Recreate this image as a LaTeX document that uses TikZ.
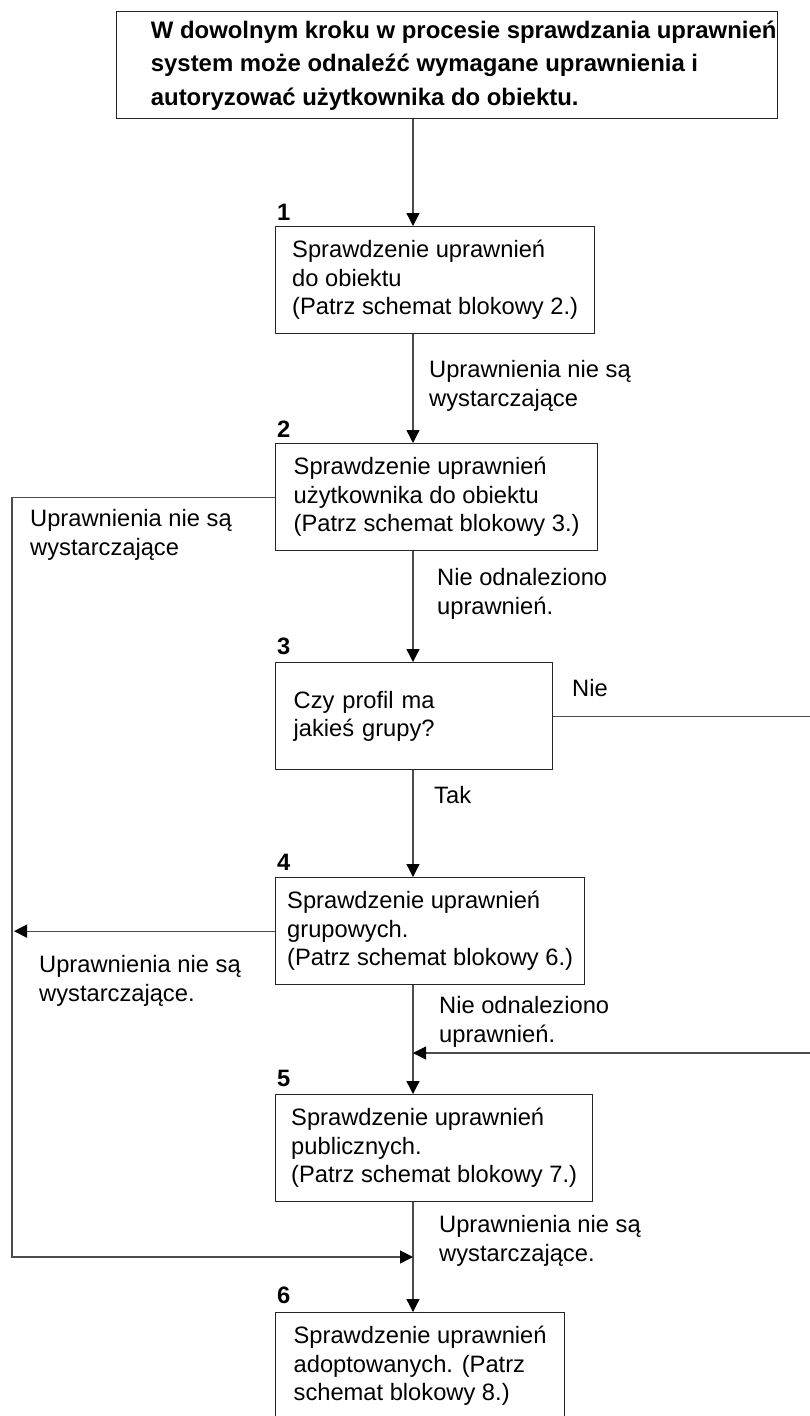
\documentclass[tikz,border=0pt]{standalone}
\usepackage{fontspec}
\setmainfont{Liberation Sans}
\usepackage{tikz}
\usetikzlibrary{arrows.meta,calc}
\tikzset{
  headbox/.style ={draw=black!85,line width=1.3pt,anchor=north west,
                   minimum width=661pt,minimum height=105pt,inner xsep=0pt,
                   font=\fontsize{23.9}{33.5}\selectfont\bfseries},
  stepbox/.style ={draw=black!85,line width=1.3pt,anchor=north west,align=left,
                   minimum height=107pt,inner xsep=8pt,inner ysep=4pt,
                   font=\fontsize{23.7}{28.5}\selectfont},
  numlab/.style  ={anchor=west,inner sep=0pt,font=\fontsize{23.7}{28.5}\selectfont\bfseries},
  edgelab/.style ={anchor=west,align=left,inner sep=0pt,
                   font=\fontsize{23.7}{28.5}\selectfont},
  conn/.style    ={draw=black!70,line width=1.3pt},
  arr/.style     ={conn,-{Triangle[length=13pt,width=13pt,color=black]}},
}

\begin{document}
\begin{tikzpicture}[x=1pt,y=-1pt]
\useasboundingbox (0,0) rectangle (810,1416);

% --- rails -----------------------------------------------------------------
\coordinate (axis)  at (413,0);
\coordinate (lrail) at (12,0);
\coordinate (rrail) at (812,0);
\coordinate (join5) at (413,1053);
\coordinate (join6) at (413,1257);

% --- heading ---------------------------------------------------------------
\node[headbox] (head) at (116,11)
  {\hspace*{33pt}\begin{tabular}{@{}l@{}}
   W dowolnym kroku w procesie sprawdzania uprawnień\\
   system może odnaleźć wymagane uprawnienia i\\
   autoryzować użytkownika do obiektu.
   \end{tabular}};

% --- steps -----------------------------------------------------------------
\node[numlab] (n1) at (277,212) {1};
\node[stepbox,minimum width=319pt] (s1) at (275,226)
  {Sprawdzenie uprawnień\\ do obiektu\\ (Patrz schemat blokowy 2.)};
\node[numlab] (n2) at (277,429) {2};
\node[stepbox,minimum width=322pt] (s2) at (275,443)
  {Sprawdzenie uprawnień\\ użytkownika do obiektu\\ (Patrz schemat blokowy 3.)};
\node[numlab] (n3) at (277,646) {3};
\node[stepbox,minimum width=277pt,text width=241pt] (s3) at (275,662)
  {Czy profil ma\\ jakieś grupy?};
\node[numlab] (n4) at (277,862) {4};
\node[stepbox,minimum width=309pt] (s4) at (275,877)
  {Sprawdzenie uprawnień\\ grupowych.\\ (Patrz schemat blokowy 6.)};
\node[numlab] (n5) at (277,1078) {5};
\node[stepbox,minimum width=317pt] (s5) at (275,1094)
  {Sprawdzenie uprawnień\\ publicznych.\\ (Patrz schemat blokowy 7.)};
\node[numlab] (n6) at (277,1295) {6};
\node[stepbox,minimum width=289pt] (s6) at (275,1312)
  {Sprawdzenie uprawnień\\ adoptowanych. (Patrz\\ schemat blokowy 8.)};

% --- main flow -------------------------------------------------------------
\draw[arr] (head.south -| axis) -- (s1.north -| axis);
\draw[arr] (s1.south -| axis) -- (s2.north -| axis);
\draw[arr] (s2.south -| axis) -- (s3.north -| axis);
\draw[arr] (s3.south -| axis) -- (s4.north -| axis);
\draw[arr] (s4.south -| axis) -- (s5.north -| axis);
\draw[arr] (s5.south -| axis) -- (s6.north -| axis);

% --- side branches ---------------------------------------------------------
\draw[arr] (s2.west) -- (s2.west -| lrail) -- (lrail |- join6) -- (join6);
\draw[arr,shorten >=2pt] (s4.west) -- (s4.west -| lrail);
\draw[arr] (s3.east) -- (s3.east -| rrail) -- (rrail |- join5) -- (join5);

% --- labels ----------------------------------------------------------------
\node[edgelab] (l1)  at (429,386)  {Uprawnienia nie są\\ wystarczające};
\node[edgelab] (l2a) at (30,535)   {Uprawnienia nie są\\ wystarczające};
\node[edgelab] (l2b) at (437,594)  {Nie odnaleziono\\ uprawnień.};
\node[edgelab] (l3a) at (572,688)  {Nie};
\node[edgelab] (l3b) at (434,795)  {Tak};
\node[edgelab] (l4a) at (39,981)   {Uprawnienia nie są\\ wystarczające.};
\node[edgelab] (l4b) at (439,1022) {Nie odnaleziono\\ uprawnień.};
\node[edgelab] (l5)  at (439,1241) {Uprawnienia nie są\\ wystarczające.};

\end{tikzpicture}
\end{document}
